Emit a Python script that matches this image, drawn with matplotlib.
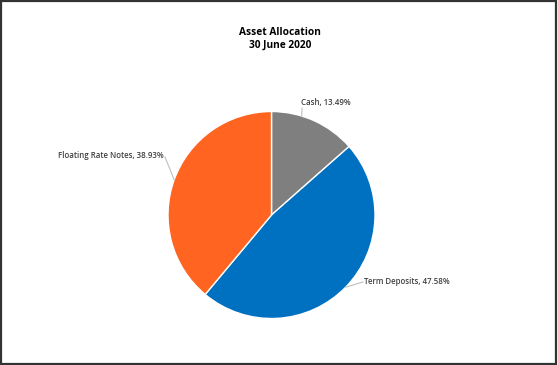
import matplotlib
matplotlib.use("Agg")
import matplotlib.pyplot as plt
from matplotlib.patches import Rectangle
import numpy as np

# data
categories = ["Cash", "Term Deposits", "Floating Rate Notes"]
shares = [13.49, 47.58, 38.93]
colors = ["#7F7F7F", "#0070C0", "#FF6420"]

plt.rcParams['font.family'] = ['Open Sans', 'DejaVu Sans']

fig = plt.figure(figsize=(5.58, 3.65), dpi=100)
ax = fig.add_axes([0, 0, 1, 1])

cx, cy, r = 271.5, 150, 103.5
wedges, _ = ax.pie(shares, colors=colors, startangle=90, counterclock=False,
                   center=(cx, cy), radius=r, frame=True,
                   wedgeprops=dict(edgecolor='white', linewidth=1))
ax.set_xlim(0, 558)
ax.set_ylim(0, 365)
ax.set_aspect('equal')
ax.axis('off')

# where each leader line hits the pie edge (deg), and where its text sits
edge_ang = [73, (wedges[1].theta1 + wedges[1].theta2) / 2,
            (wedges[2].theta1 + wedges[2].theta2) / 2]
text_pos = [(301, 262), (364, 84), (164, 210)]
aligns = ['left', 'left', 'right']

for i, name in enumerate(categories):
    a = np.deg2rad(edge_ang[i])
    ex, ey = cx + r * np.cos(a), cy + r * np.sin(a)
    tx, ty = text_pos[i]
    if i == 0:
        lx, ly = tx + 1, ty - 5
    elif i == 1:
        lx, ly = tx - 1, ty - 1
    else:
        lx, ly = tx + 1, ty - 2
    ax.plot([lx, ex], [ly, ey], color='#BFBFBF', lw=0.8)
    ax.text(tx, ty, f"{name}, {shares[i]:.2f}%", ha=aligns[i], va='center',
            fontsize=5.7, fontweight='semibold', color='#404040')

fig.text(0.502, 0.912, "Asset Allocation", ha='center', va='center',
         fontsize=7.3, fontweight='bold', color='black')
fig.text(0.502, 0.876, "30 June 2020", ha='center', va='center',
         fontsize=7.3, fontweight='bold', color='black')

fig.patches.append(Rectangle((0.001, 0.002), 0.996, 0.994, transform=fig.transFigure,
                             fill=False, edgecolor='#333333', linewidth=1.6))

fig.savefig("out.png", dpi=100)
